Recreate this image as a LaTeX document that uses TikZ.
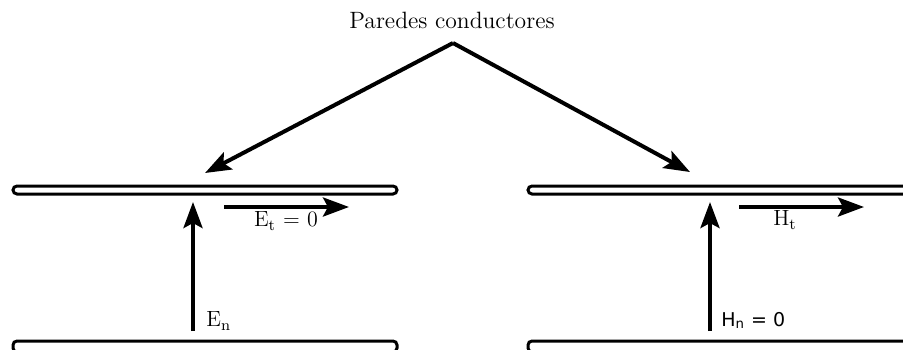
\documentclass[tikz,border=0pt]{standalone}
\usepackage{fontspec}
\newfontfamily\dejavu{DejaVu Sans}
\usetikzlibrary{arrows.meta}

\tikzset{
  plate/.style={draw, line width=1.5pt, fill=white, rounded corners=2pt},
  field/.style={line width=2pt, -{Stealth[length=13pt,width=9.5pt,inset=2.5pt]}},
  lbl/.style={inner sep=0pt, font=\fontsize{11}{13}\selectfont},
}

\begin{document}
\begin{tikzpicture}[x=0.5pt, y=-0.5pt, line join=miter]
\useasboundingbox (0,0) rectangle (903,349);
\clip (0,0) rectangle (903,349);

% --- TITLE AND THE TWO POINTERS ---
  \node[lbl, font=\fontsize{11.8}{14}\selectfont] (title) at (452,20) {Paredes conductores};
  \coordinate (apex) at (453,43);
  \coordinate (tipL) at (205,173);
  \coordinate (tipR) at (690,172);
  \draw[field] (apex) -- (tipL);
  \draw[field] (apex) -- (tipR);

% --- CONDUCTING WALLS ---
  % left pair
  \draw[plate] (13,186) rectangle (397,194);
  \draw[plate] (13,341) rectangle (397,352);
  % right pair (running off the page)
  \draw[plate] (528,186) rectangle (912,194);
  \draw[plate] (528,341) rectangle (912,352);

% --- ELECTRIC FIELD (LEFT) ---
  \coordinate (EnA) at (193,331);
  \coordinate (EnB) at (193,202);
  \coordinate (EtA) at (224,207);
  \coordinate (EtB) at (349,207);
  \draw[field] (EnA) -- (EnB);
  \draw[field] (EtA) -- (EtB);
  \node[lbl, anchor=west] (En) at (206,321) {E\textsubscript{n}};
  \node[lbl] (Et) at (286,221) {E\textsubscript{t} = 0};

% --- MAGNETIC FIELD (RIGHT) ---
  \coordinate (HnA) at (710,331);
  \coordinate (HnB) at (710,202);
  \coordinate (HtA) at (739,207);
  \coordinate (HtB) at (864,207);
  \draw[field] (HnA) -- (HnB);
  \draw[field] (HtA) -- (HtB);
  \node[lbl, anchor=west, font=\dejavu\fontsize{9.5}{11}\selectfont] (Hn) at (721,320) {H\textsubscript{n} = 0};
  \node[lbl] (Ht) at (785,220) {H\textsubscript{t}};

\end{tikzpicture}
\end{document}
